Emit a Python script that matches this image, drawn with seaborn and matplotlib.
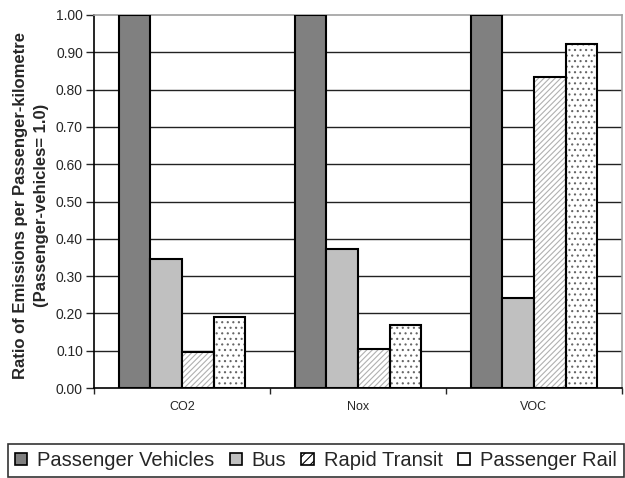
import matplotlib
matplotlib.use("Agg")
import matplotlib.pyplot as plt
import matplotlib.patches as mpatches
from matplotlib.ticker import FormatStrFormatter
import seaborn as sns
import pandas as pd

pollutants = ["CO2", "Nox", "VOC"]
modes = ["Passenger Vehicles", "Bus", "Rapid Transit", "Passenger Rail"]
passenger_vehicles = [1.00, 1.00, 1.00]
bus = [0.345, 0.373, 0.242]
rapid_transit = [0.097, 0.104, 0.835]
passenger_rail = [0.190, 0.168, 0.923]

face_colors = ["#808080", "#c0c0c0", "#ffffff", "#ffffff"]
hatches = [None, None, "//////", "..."]
hatch_colors = [None, None, "#b0b0b0", "#666666"]

rows = []
for mode, vals in zip(modes, [passenger_vehicles, bus, rapid_transit, passenger_rail]):
    for p, v in zip(pollutants, vals):
        rows.append({"pollutant": p, "mode": mode, "ratio": v})
df = pd.DataFrame(rows)

sns.set_style("white")
plt.rcParams["font.family"] = ["Liberation Sans", "DejaVu Sans"]
plt.rcParams["hatch.linewidth"] = 0.8

fig = plt.figure(figsize=(6.25, 4.78), dpi=100)
ax = fig.add_axes([94 / 625, 1 - 388 / 478, (622 - 94) / 625, (388 - 15) / 478])

sns.barplot(data=df, x="pollutant", y="ratio", hue="mode", order=pollutants,
            hue_order=modes, palette=face_colors, width=0.72, saturation=1,
            edgecolor="black", linewidth=1.5, legend=False, ax=ax, zorder=3)

# hatched bars: draw the hatch in grey, then a black outline on top
for cont, hatch, hc in zip(ax.containers, hatches, hatch_colors):
    if hatch is None:
        continue
    for bar in cont:
        bar.set_hatch(hatch)
        bar.set_edgecolor(hc)
        bar.set_linewidth(0)
        outline = mpatches.Rectangle(bar.get_xy(), bar.get_width(), bar.get_height(),
                                     facecolor="none", edgecolor="black",
                                     linewidth=1.5, zorder=4)
        ax.add_patch(outline)

ax.set_ylim(0, 1.0)
ax.set_xlim(-0.5, 2.5)
ax.set_yticks([i / 10 for i in range(11)])
ax.yaxis.set_major_formatter(FormatStrFormatter("%.2f"))
for y in [i / 10 for i in range(1, 10)]:
    ax.axhline(y, color="#222222", linewidth=1.0, zorder=1)

ax.set_xticks([-0.5, 0.5, 1.5, 2.5])
ax.set_xticklabels([])
ax.set_xticks([0, 1, 2], minor=True)
ax.set_xticklabels(pollutants, minor=True, fontsize=9)
ax.tick_params(axis="x", which="major", direction="out", length=4, width=1, bottom=True)
ax.tick_params(axis="x", which="minor", length=0, pad=9)
ax.tick_params(axis="y", direction="out", length=6, width=1, left=True, labelsize=10, pad=2)

for side in ["top", "right"]:
    ax.spines[side].set_color("#a0a0a0")
    ax.spines[side].set_linewidth(1.2)
for side in ["left", "bottom"]:
    ax.spines[side].set_color("black")
    ax.spines[side].set_linewidth(1.2)

ax.set_xlabel("")
ax.set_ylabel("Ratio of Emissions per Passenger-kilometre\n(Passenger-vehicles= 1.0)",
              fontsize=12, fontweight="bold", linespacing=1.5)
ax.yaxis.set_label_coords(-0.085, 0.49)

handles = []
for fc, hatch, hc in zip(face_colors, hatches, hatch_colors):
    handles.append(mpatches.Patch(facecolor=fc, edgecolor="black", linewidth=1.2,
                                  hatch="////" if hatch == "//////" else None))
leg = fig.legend(handles, modes, loc="upper left", bbox_to_anchor=(8 / 625, 1 - 444 / 478),
                 ncol=4, fontsize=14.5, frameon=True, fancybox=False,
                 handlelength=0.6, handleheight=0.6, handletextpad=0.5,
                 columnspacing=0.75, borderpad=0.35, borderaxespad=0)
leg.get_frame().set_edgecolor("black")
leg.get_frame().set_linewidth(1.2)

fig.savefig("out.png", dpi=100)
